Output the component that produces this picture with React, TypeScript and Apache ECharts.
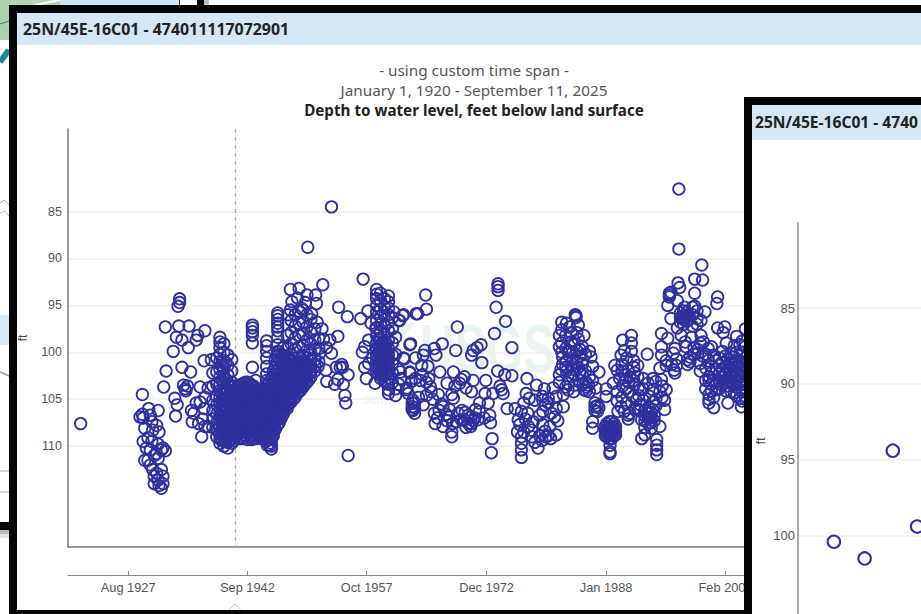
import React, { useEffect, useRef } from "react";
import * as echarts from "echarts";

const headerText = "25N/45E-16C01 - 474011117072901";
const insetHeaderText = "25N/45E-16C01 - 4740";
const titleLines = ["- using custom time span -", "January 1, 1920 - September 11, 2025", "Depth to water level, feet below land surface"];
const yTicks = [85, 90, 95, 100, 105, 110];
const insetYTicks = [85, 90, 95, 100];
const xTickYears = [1927.6, 1942.67, 1957.75, 1972.9, 1988.0, 2003.1];
const xTickLabels = ["Aug 1927", "Sep 1942", "Oct 1957", "Dec 1972", "Jan 1988", "Feb 2003"];
const markerYear = 1941.1;

// each row: year, then the depths read at that year
const early: number[][] = [
  [1921.6, 107.6], [1929.1, 106.9], [1929.4, 104.5, 106.6], [1929.5, 107, 109.5], [1929.7, 108.1, 111.5], [1929.9, 110.2], [1930.1, 111.5, 109.1],
  [1930.2, 106], [1930.4, 106.7, 110.4, 112.0], [1930.6, 109.5, 107.4], [1930.7, 108.3, 112.5], [1930.9, 111, 113.2, 114], [1931.2, 107.8, 110.8, 112.9],
  [1931.4, 106.2, 111.3, 113.6, 109.8], [1931.5, 108.5, 114.2], [1931.8, 112.5, 114.5, 110.4], [1932, 110.2, 113.2, 114], [1932.3, 110.5, 97.3],
  [1934.1, 94.3, 94.7], [1933.9, 95.1], [1934, 97.2], [1935.3, 97.2], [1937.3, 97.7, 104.8, 107.9], [1936.4, 98.2], [1936.2, 98.7], [1933.7, 98.4],
  [1934.4, 98.7, 101.6], [1935.2, 99.5], [1933.3, 99.9], [1932.4, 102], [1935.5, 102.1], [1932.1, 103.7], [1934.8, 103.9], [1934.6, 103.5], [1935.1, 103.6],
  [1934.9, 104.1], [1936.7, 103.7, 105.3], [1933.5, 104.9], [1933.8, 105.6], [1933.6, 106.8], [1935.6, 106.2], [1935.9, 106.5], [1935.7, 107.4],
  [1936.5, 107.6], [1936.9, 109], [1937.2, 106, 100.9], [1937.7, 107.9, 103.8], [1938.1, 100.8], [1936.2, 105.4], [1937.0, 107.1],
];
const blobWest: number[][] = [
  [1938.3, 102.2, 103.6, 105.1, 106.2, 107.1, 108.0],
  [1938.8, 100.6, 102.1, 103.4, 104.7, 105.6, 106.6, 107.5, 108.3, 109.0],
  [1939.2, 98.4, 98.9, 99.5, 100.2, 101.0, 101.8, 102.6, 103.4, 104.1, 104.8, 105.4, 106.1, 106.7, 107.3, 107.9, 108.6, 109.2, 109.7],
  [1939.7, 99.1, 100.0, 100.9, 101.7, 102.5, 103.2, 103.9, 104.5, 105.2, 105.8, 106.4, 107.1, 107.7, 108.3, 108.9, 109.5, 110.0],
  [1940.2, 100.3, 101.4, 102.4, 103.3, 104.0, 104.7, 105.3, 105.9, 106.6, 107.2, 107.8, 108.4, 109.0, 109.6, 110.2],
  [1940.7, 100.8, 102.0, 103.2, 104.2, 104.9, 105.5, 106.2, 106.8, 107.4, 108.0, 108.6, 109.2, 109.7],
  [1941.2, 103.9, 104.6, 105.2, 105.8, 106.5, 107.1, 107.7, 108.3, 108.9],
  [1941.7, 103.5, 104.2, 104.8, 105.5, 106.1, 106.7, 107.3, 108.0, 108.6, 109.2],
  [1942.2, 103.3, 103.9, 104.5, 105.1, 105.8, 106.4, 107.0, 107.6, 108.2, 108.8, 109.2],
  [1942.7, 103.2, 103.8, 104.4, 105.0, 105.7, 106.3, 106.9, 107.5, 108.1, 108.7, 109.3],
  [1943.2, 103.5, 104.1, 104.8, 105.4, 106.0, 106.6, 107.2, 107.8, 108.4, 109.0, 109.3],
  [1943.7, 103.8, 104.4, 105.0, 105.6, 106.3, 106.9, 107.5, 108.1, 108.7, 109.2],
  [1944.2, 104.1, 104.7, 105.3, 105.9, 106.5, 107.2, 107.8, 108.4, 109.1],
  [1944.7, 103.9, 104.5, 105.2, 105.8, 106.4, 107.0, 107.6, 108.2, 108.8, 109.3],
  [1945.2, 103.4, 104.0, 104.7, 105.3, 105.9, 106.5, 107.1, 107.7, 108.3, 108.9, 109.4, 109.9],
  [1945.7, 102.8, 103.5, 104.2, 104.8, 105.4, 106.0, 106.7, 107.3, 107.9, 108.5, 109.1, 109.7, 110.0, 110.3],
  [1946.2, 100.8, 101.6, 102.4, 103.1, 103.8, 104.4, 105.0, 105.7, 106.3, 106.9, 107.5, 108.2],
];
const blobWestFill: number[][] = [
  [1939.45, 101.4, 103.0, 104.4, 105.1, 105.7, 106.4, 107.0, 107.6, 108.2, 108.8, 109.4],
  [1939.95, 101.1, 102.9, 104.3, 105.0, 105.6, 106.3, 106.9, 107.5, 108.1, 108.7, 109.3],
  [1940.45, 103.7, 104.4, 105.1, 105.7, 106.4, 107.0, 107.6, 108.2, 108.8, 109.4],
  [1940.95, 103.6, 104.5, 105.1, 105.8, 106.4, 107.1, 107.7, 108.3, 108.9, 109.4],
  [1941.45, 103.7, 104.3, 104.9, 105.6, 106.2, 106.8, 107.4, 108.1, 108.7],
  [1941.95, 103.4, 104.1, 104.7, 105.3, 106.0, 106.6, 107.2, 107.8, 108.4, 109.0],
  [1942.45, 103.2, 103.8, 104.6, 105.2, 105.9, 106.5, 107.1, 107.7, 108.3, 108.9],
  [1942.95, 103.3, 104.0, 104.6, 105.3, 105.9, 106.5, 107.1, 107.7, 108.3, 108.9],
  [1943.45, 103.6, 104.3, 104.9, 105.5, 106.2, 106.8, 107.4, 108.0, 108.6, 109.2],
  [1943.95, 104.0, 104.6, 105.2, 105.8, 106.4, 107.1, 107.7, 108.3, 108.9],
  [1944.45, 104.0, 104.6, 105.3, 105.9, 106.5, 107.1, 107.7, 108.3, 108.9],
  [1944.95, 103.6, 104.3, 104.9, 105.5, 106.2, 106.8, 107.4, 108.0, 108.6, 109.2],
  [1945.45, 103.1, 103.8, 104.5, 105.1, 105.7, 106.3, 106.9, 107.5, 108.1, 108.7, 109.3, 109.9],
  [1945.95, 102.0, 103.0, 103.9, 104.6, 105.2, 105.9, 106.5, 107.1, 107.7, 108.4, 108.9],
];
const upperStacks: number[][] = [
  [1943.3, 97.1, 97.4, 97.8, 98.2, 99.0, 101.6], [1943.7, 103.0], [1945.1, 98.8, 99.3, 99.9, 100.6, 101.5, 102.3, 103.0],
  [1946.5, 95.8, 96.1, 96.5, 96.9, 97.3, 97.7, 98.4, 99.2, 99.9],
  [1948.1, 93.3, 95.5], [1949.2, 93.2], [1950.2, 93.9], [1951.3, 93.9], [1952.2, 92.8], [1951.4, 94.8], [1948.3, 94.6], [1949.5, 95.3], [1950.3, 88.8], [1953.3, 84.5],
  [1950.8, 95.9], [1951.5, 96.8], [1949.0, 94.2], [1947.8, 96.0], [1950.0, 94.7],
];
const blobEast: number[][] = [
  [1946.7, 100.0, 100.8, 101.6, 102.3, 103.0, 103.7, 104.3, 105.0, 105.6, 106.3, 107.0, 107.5],
  [1947.2, 99.5, 100.3, 101.1, 101.8, 102.5, 103.1, 103.8, 104.4, 105.0, 105.6, 106.2, 106.6],
  [1947.7, 98.2, 99.6, 100.5, 101.2, 101.9, 102.6, 103.2, 103.9, 104.5, 105.2, 106.0],
  [1948.2, 96.6, 97.9, 99.1, 100.2, 101.0, 101.7, 102.4, 103.0, 103.6, 104.2, 104.8, 105.3],
  [1948.7, 96.0, 97.2, 98.5, 99.7, 100.6, 101.4, 102.1, 102.8, 103.5, 104.2, 104.8],
  [1949.2, 95.6, 96.9, 98.2, 99.4, 100.5, 101.2, 101.9, 102.6, 103.3, 104.2],
  [1949.7, 95.5, 96.8, 98.1, 99.3, 100.4, 101.1, 101.8, 102.5, 103.1, 103.7],
  [1950.2, 96.0, 97.3, 98.7, 99.8, 100.6, 101.3, 102.0, 102.6, 103.2],
  [1950.7, 96.5, 97.9, 99.1, 100.1, 100.8, 101.5, 102.1, 102.6],
  [1951.2, 97.5, 98.7, 99.7, 100.8, 101.4, 102.0],
  [1951.7, 98.5, 99.6, 101.0],
];
const blobEastFill: number[][] = [
  [1946.45, 100.4, 101.2, 102.0, 102.7, 103.4, 104.1, 104.7, 105.3, 106.0, 106.6, 107.2, 107.8],
  [1946.95, 100.2, 101.0, 101.9, 102.6, 103.3, 104.0, 104.6, 105.3, 105.9, 106.5, 107.0],
  [1947.45, 100.8, 101.5, 102.2, 102.9, 103.5, 104.1, 104.8, 105.4, 106.0],
  [1947.95, 100.9, 101.6, 102.3, 102.9, 103.6, 104.2, 104.9, 105.5],
  [1948.45, 101.3, 102.0, 102.6, 103.2, 103.8, 104.4, 105.0],
  [1948.95, 101.0, 101.8, 102.5, 103.1, 103.8, 104.4],
  [1949.45, 101.1, 101.7, 102.3, 102.9, 103.6, 104.0],
  [1949.95, 101.3, 102.0, 102.7, 103.4],
  [1950.45, 101.5, 102.2, 102.9],
];
const fifties: number[][] = [
  [1954.2, 95.2], [1955.3, 96.2], [1954.1, 98.3], [1952.1, 97.5], [1953.1, 98.7], [1952.7, 99.5, 103.1], [1953.3, 100.1], [1951.8, 100.1], [1951.6, 101.5],
  [1952.6, 101.9], [1953.9, 101.6], [1954.4, 101.6], [1954.7, 101.6], [1955.4, 102.4, 111], [1953.7, 103.4], [1954.8, 103.4], [1955, 104.6], [1955.1, 105.4],
  [1954.6, 101.3], [1954.1, 102.9], [1952.3, 98.6],
  [1957.3, 92.2], [1957, 96.4], [1957.9, 95.6], [1958.9, 97.4], [1957.5, 99.4, 101.6], [1957.2, 100], [1957.7, 102.8], [1958.8, 103.3], [1958.3, 96.9], [1958.5, 100.6],
  [1961.2, 95.7], [1962.3, 96.1], [1964, 95.9], [1963.3, 99.1], [1962.4, 100.6], [1962, 102.1], [1963.2, 102.1], [1962.8, 104], [1963.9, 102.8], [1963.5, 105.4, 106.1, 105.8],
  [1961.4, 98.4, 100.2, 103.9, 104.6], [1961.8, 96.6, 101.8, 103.4], [1958.0, 98.7, 101.2],
];
const stack1960: number[][] = [
  [1959.0, 93.3, 93.8, 94.3, 95.0, 95.7, 96.6, 97.4, 98.2, 99, 99.7, 100.3, 100.9, 101.5, 102.1],
  [1959.25, 98.6, 99.3, 100.0, 100.6, 101.2, 101.8, 102.4],
  [1959.5, 93.7, 94.5, 95.4, 96.2, 97, 97.9, 98.6, 99.2, 99.8, 100.4, 101, 101.6, 102.2, 102.8],
  [1959.75, 98.9, 99.5, 100.1, 100.7, 101.3, 101.9, 102.5],
  [1960.0, 94.3, 95.2, 96.1, 97.2, 98.1, 98.8, 99.5, 100.1, 100.7, 101.3, 101.9, 102.5, 103.1],
  [1960.25, 99.1, 99.8, 100.4, 101.0, 101.6, 102.2],
  [1960.5, 94.0, 94.6, 95.3, 96, 96.8, 97.7, 98.7, 99.6, 100.2, 100.8, 101.4, 102, 102.7, 103.4, 104.0, 104.4],
  [1961.0, 96.3, 97.5, 99, 100.3, 101.2, 102.2, 103.2],
];
const sixties: number[][] = [
  [1965.2, 93.9], [1965.3, 95.4], [1964.2, 95.9], [1962.4, 96], [1961.9, 96.6], [1969.2, 97.3], [1963.2, 99.2, 102.2], [1967.3, 99.1], [1966.3, 99.6, 106.5], [1965.1, 99.8],
  [1964.9, 100.3, 105.6], [1969, 99.8], [1972.2, 99.2], [1971.7, 99.5], [1971.2, 99.8, 103], [1971, 100.3, 104.2, 107.6], [1972.3, 101.1], [1962.5, 100.7], [1964.7, 101.4], [1965.5, 101.5],
  [1974.35, 92.7, 93, 93.4], [1974.1, 95.2], [1975.3, 96.7], [1973.9, 98], [1976.1, 99.5, 102.5], [1974.3, 102], [1975.2, 102.4], [1972.8, 103], [1968.7, 102.1, 104.9],
  [1967, 102.1], [1970.1, 102.6, 107.2], [1969.7, 102.9, 107.2], [1974.6, 103.6], [1974.8, 104], [1975, 104.4], [1972.7, 104.4], [1973.7, 104.4],
  [1964.5, 103], [1965.8, 103.7], [1965.9, 104.2], [1966.8, 104.5], [1967.9, 103.3], [1968.5, 104.5, 108.5, 109], [1969.5, 103.3], [1970.3, 103.8], [1962.8, 103.8], [1962.1, 102.8], [1963.4, 103.1],
  [1963.6, 105.1, 106.2], [1963.8, 105.4, 105.9, 106.5], [1967.2, 105.5], [1966.4, 107.6], [1967.4, 105.8, 107.9], [1968.2, 106.1, 106.9],
  [1969.3, 106.5], [1970.6, 106.7, 107.6], [1971.4, 107], [1972, 106.3, 105.4], [1971.8, 107.2], [1973.3, 106.7], [1973.4, 107.5], [1973.1, 105.4],
  [1973.6, 109.2], [1973.5, 110.7], [1975.5, 106], [1976.5, 106], [1965.3, 103.2, 104.6], [1966.1, 105.0], [1967.8, 106.6], [1970.9, 107.9], [1970.3, 108.0], [1969.8, 106.2],
  [1971.5, 106.1], [1972.6, 107.0], [1964.3, 104.8], [1963.0, 104.4], [1968.9, 103.6],
  [1970.9, 106.9], [1971.2, 107.3], [1970.2, 106.4], [1969.1, 107.4], [1968.6, 107.6], [1967.9, 107.3], [1966.9, 106.2], [1966.7, 107.0], [1965.6, 102.8], [1964.8, 102.4], [1963.9, 100.6], [1966.5, 100.3],
];
const seventies: number[][] = [
  [1978, 102.8], [1979.2, 103.5], [1977.9, 104.4], [1976.9, 107.2], [1977.1, 107.7], [1977.3, 106.3, 109, 109.7, 110.4, 111.2], [1978.1, 106.5], [1979, 105.1], [1980, 104.7, 106.3, 107.7, 105.1],
  [1980.7, 105.4, 104.9], [1981.7, 106, 108.8, 104.7], [1982.6, 105.8, 104.5], [1981.5, 106.9], [1978.6, 108.3, 109], [1979.4, 110.2], [1980.4, 109], [1980.9, 107.9], [1978.8, 107.4], [1981.3, 103.8], [1981.1, 106.5],
  [1977.6, 105.4, 108.5], [1978.3, 104.9], [1979.6, 106.7, 108.9], [1980.3, 108.4, 105.6], [1981.0, 109.2], [1981.9, 107.3], [1982.1, 98.2, 99.4, 102.4, 103.2], [1983, 96.9, 102.0, 100.9], [1984.1, 96],
  [1982.5, 100.5, 101.3], [1983.2, 99.9, 103.3, 104.0], [1982.9, 98.2],
  [1979.9, 109.4], [1980.7, 108.9], [1979.0, 109.6], [1978.2, 107.9], [1977.8, 107.1], [1976.8, 108.5], [1980.2, 103.9], [1982.3, 101.8], [1983.7, 100.1, 102.6], [1984.3, 97.9, 99.8],
  [1982.4, 96.8, 97.6, 99.0, 100.0], [1983.6, 97.9, 98.9, 101.5], [1984.5, 97.1, 98.6, 101.6, 102.9], [1982.9, 99.6, 101.6, 103.7], [1983.9, 101.8, 102.3, 104.2],
];
const eighties: number[][] = [
  [1984.2, 96.1, 96.3, 101.0], [1983.4, 97.3, 99.9], [1985.2, 98.2], [1984, 99.2, 103.5], [1985.9, 99.9, 102.6, 104.2], [1986.1, 100.5], [1983.8, 100.8], [1984.7, 102.2, 99.7, 100.4], [1987.1, 102.1], [1985.1, 103.3, 100.8],
  [1985.5, 103.7, 103.2, 104.1], [1985.2, 104.0], [1985.8, 103.5], [1986.6, 105.8, 105.4, 106.2], [1986.9, 105.7, 106.3], [1987.1, 105.9], [1986.3, 107.4, 108.1], [1988, 104.7, 103.9],
  [1985.0, 99.4, 101.2, 102.4], [1985.4, 100.2, 102.0], [1986.3, 101.5, 103.0], [1986.7, 103.8],
  [1988.5, 110.6, 110.8, 109.9],
  [1987.9, 107.9, 108.4, 108.9], [1988.1, 107.6, 108.1, 108.6, 109.0], [1988.4, 107.4, 107.9, 108.4, 108.8, 109.2], [1988.7, 107.4, 107.9, 108.3, 108.7, 109.2], [1989.0, 107.6, 108.0, 108.5, 108.9], [1989.2, 107.9, 108.4, 108.8],
  [1989.1, 101.4], [1990.1, 98.7, 103.6], [1991.2, 98.2, 99, 99.9], [1989.9, 100.3], [1992, 101.4, 102.6], [1993.2, 100.2], [1989.7, 102.8], [1988.9, 103.3], [1990.8, 101.9], [1991, 102.6, 106.5],
  [1993.3, 103.3], [1991.4, 104.7], [1990.6, 105.4, 100.6], [1991.8, 105.1], [1990.3, 106.3], [1989.5, 106.3], [1993.5, 104.7, 107], [1994.8, 104.2, 107.9, 101.7], [1995.6, 104, 101.4], [1995.4, 105.1, 106.1], [1993.9, 106.1],
  [1992.9, 106.2, 106.8, 107.3, 108.0], [1993.3, 105.9, 106.5, 107.0, 107.6], [1993.7, 106.4, 106.9, 107.5, 108.1], [1994.1, 106.7, 107.3], [1992.5, 107.2, 109.2], [1992.9, 108.8],
  [1994.4, 109.3, 109.9, 110.4, 110.9], [1991.6, 102.2, 103.4, 106.0], [1992.3, 104.0, 105.6], [1990.9, 103.2, 104.2], [1990.3, 102.4, 99.8],
  [1989.4, 101.9, 104.2, 105.2], [1990.0, 101.3, 102.0, 104.8], [1990.5, 103.0, 103.9], [1991.5, 100.9, 101.6, 103.0], [1992.1, 103.7, 104.6, 106.1], [1992.7, 102.8, 103.9, 105.1],
  [1993.9, 102.8, 104.0, 105.3], [1994.3, 103.1, 105.0, 105.7], [1995.1, 103.6, 104.8], [1989.9, 105.8], [1990.8, 106.7, 107.1],
];
const nineties: number[][] = [
  [1995, 98, 99.4, 100.3, 102.9], [1995.8, 98.5, 95], [1996.7, 99.6, 102.2], [1996.5, 100.1], [1995.6, 100.9], [1996.3, 101.3], [1996.6, 101.9],
  [1997.2, 82.6, 89], [1997.1, 92.6], [1997.3, 93.1], [1996, 93.9, 93.7, 94.1], [1996.2, 96.4, 93.6],
  [1999.2, 92.2, 93.7, 95.1], [2000.2, 92.3], [2000.1, 90.7], [2002.1, 94.1], [2002, 94.8],
  [1997.4, 95.8, 96.3, 96.8], [1997.8, 95.6, 96.1, 96.5, 97.0], [1998.2, 95.7, 96.2, 96.7], [1998.5, 96.1, 96.5], [1997.9, 95.2, 96.3],
  [1998.9, 95.2, 96.0, 97.2], [1999.5, 95.6, 96.4, 97.0], [2000.5, 95.7], [2000, 96.6, 98.2], [1997.5, 98.2], [1998.8, 98.4], [2000.3, 98.9], [1998.1, 99.4], [1997.0, 94.5, 97.4],
  [1998.3, 100.8, 101.3], [1999.6, 100.1, 99.7], [1998.6, 100.5, 101.0], [2002.1, 97.4], [2003, 97.3], [2002.8, 97.9], [2003.2, 99], [1999.1, 100.2, 99.5], [2000.2, 100.4],
  [1996.9, 100.7, 101.4], [1998.0, 98.9], [1999.9, 99.0, 101.2, 102.0], [2000.6, 100.2, 101.7, 103.0, 103.9],
];
const recent: number[][] = [
  [2000.9, 99.6, 100.9], [2001.3, 99.4, 101.5, 102.2, 103.4, 104.1], [2001.0, 102.6, 103.0, 104.5, 105.0, 105.4], [2001.6, 100.3, 105.9, 102.9, 104.8], [2001.9, 100.9, 101.8, 103.2, 104.0], [2002.3, 100.6, 101.4, 102.3, 103.0, 103.9],
  [2002.7, 99.9, 101.1, 101.9, 102.6, 103.5], [2003.1, 100.4, 101.5, 102.4, 103.2, 104.1], [2003.4, 105.4, 100.7, 101.8, 102.7, 103.6], [2003.8, 100.1, 101.1, 101.9, 102.5, 103.3, 104.2], [2004.2, 99.3, 100.5, 101.3, 102.0, 102.7, 103.4, 104.3],
  [2004.5, 98.3, 100.0, 100.9, 101.6, 102.3, 103.0, 103.7, 104.6], [2004.9, 99.2, 100.3, 101.1, 101.8, 102.5, 103.2, 104.0, 104.9], [2005.2, 98.8, 100.0, 101.0, 101.9, 102.6, 103.4, 104.2, 105.2], [2005.1, 105.8],
  [2005.6, 97.5, 99.4, 100.6, 101.6, 102.4, 103.2, 104.1, 105.0],
];
const mainRows = [early, blobWest, blobWestFill, upperStacks, blobEast, blobEastFill, fifties, stack1960, sixties, seventies, eighties, nineties, recent];
const insetYears = [1922.8, 1925.2, 1927.4, 1929.3];
const insetDepths = [100.4, 101.5, 94.4, 99.4];

const uiFont = "'Noto Sans', sans-serif";
const axisFont = "'Liberation Sans', Arial, sans-serif";
const ringColor = "#2f2f9e";
const paleMark = "#eaf4f1";

function rect(x: number, y: number, w: number, h: number, fill: string, z: number) {
  return { type: "rect", z, silent: true, shape: { x, y, width: w, height: h }, style: { fill } };
}
function line(points: number[][], stroke: string, width: number, z: number) {
  return { type: "polyline", z, silent: true, shape: { points }, style: { stroke, lineWidth: width, fill: "none" } };
}

export default function App() {
  const ref = useRef<HTMLDivElement>(null);
  useEffect(() => {
    document.body.style.margin = "0";
    const chart = echarts.init(ref.current!, undefined, { renderer: "svg" });
    const mainData = mainRows.flat().flatMap(([y, ...ds]) => ds.map((d) => [y, d]));
    const insetData = insetYears.map((y, i) => [y, insetDepths[i]]);
    const ticksOf = (v: number) => xTickLabels[xTickYears.indexOf(v)] ?? "";
    chart.setOption({
      animation: false,
      backgroundColor: "#ffffff",
      title: [
        { text: titleLines[0], left: 469, top: 57, textAlign: "center", z: 6, textStyle: { fontFamily: uiFont, fontSize: 15.3, fontWeight: "normal", color: "#555" } },
        { text: titleLines[1], left: 469, top: 77, textAlign: "center", z: 6, textStyle: { fontFamily: uiFont, fontSize: 15.3, fontWeight: "normal", color: "#555" } },
        { text: titleLines[2], left: 469, top: 97, textAlign: "center", z: 6, textStyle: { fontFamily: uiFont, fontSize: 15.2, fontWeight: "bold", color: "#222" } },
      ],
      grid: [
        { left: 68, top: 129, width: 853, height: 418, containLabel: false },
        { left: 798, top: 223, width: 123, height: 391, containLabel: false },
      ],
      xAxis: [
        { type: "value", gridIndex: 0, min: 1920, max: 2027.8, z: 4, axisLine: { onZero: false, lineStyle: { color: "#777", width: 1.5 } }, axisTick: { show: false }, axisLabel: { show: false }, splitLine: { show: false } },
        { type: "value", gridIndex: 0, min: 1920, max: 2027.8, position: "bottom", offset: 28, z: 4,
          axisLine: { onZero: false, lineStyle: { color: "#888", width: 1.2 } },
          axisTick: { inside: true, length: 4, customValues: xTickYears, lineStyle: { color: "#888" } },
          axisLabel: { customValues: xTickYears, formatter: ticksOf, margin: 6, fontFamily: axisFont, fontSize: 12.8, color: "#555" },
          splitLine: { show: false } },
        { type: "value", gridIndex: 1, min: 1920, max: 1929.6, show: false, z: 12 },
      ],
      yAxis: [
        { type: "value", gridIndex: 0, inverse: true, min: 76.2, max: 120.75, z: 4, name: "ft", nameLocation: "middle", nameGap: 39, nameMoveOverlap: false,
          nameTextStyle: { fontFamily: axisFont, fontSize: 12, color: "#444" },
          axisLine: { show: true, onZero: false, lineStyle: { color: "#777", width: 1.5 } }, axisTick: { show: false, customValues: yTicks },
          axisLabel: { customValues: yTicks, margin: 6, fontFamily: axisFont, fontSize: 12.5, color: "#555" },
          splitLine: { show: true, lineStyle: { color: "#efefef", width: 1.5 } } },
        { type: "value", gridIndex: 1, inverse: true, min: 79.4, max: 105.16, z: 12,
          axisLine: { show: true, onZero: false, lineStyle: { color: "#aaa", width: 2 } }, axisTick: { show: false, customValues: insetYTicks },
          axisLabel: { customValues: insetYTicks, margin: 3, fontFamily: axisFont, fontSize: 13, color: "#555" },
          splitLine: { show: true, lineStyle: { color: "#efefef", width: 1.5 } } },
      ],
      series: [
        { type: "scatter", name: "Depth", xAxisIndex: 0, yAxisIndex: 0, z: 5, data: mainData, symbol: "circle", symbolSize: 11.5, silent: true, clip: false,
          itemStyle: { color: "rgba(0,0,0,0)", borderColor: ringColor, borderWidth: 1.8, opacity: 1 },
          markLine: { silent: true, symbol: "none", label: { show: false }, lineStyle: { type: [4, 4], color: "#aaaaaa", width: 1.3 }, data: [{ xAxis: markerYear }] } },
        { type: "scatter", name: "Depth inset", xAxisIndex: 2, yAxisIndex: 1, z: 13, data: insetData, symbol: "circle", symbolSize: 12.5, silent: true, clip: false,
          itemStyle: { color: "rgba(0,0,0,0)", borderColor: ringColor, borderWidth: 2, opacity: 1 } },
      ],
      graphic: { elements: [
        // screenshot behind: map fragments
        rect(0, 0, 180, 5, "#cfe6f4", 0),
        rect(0, 0, 60, 5, "#b5d5b6", 0),
        line([[35, 5], [60, 0]], "#ffffff", 2, 0),
        line([[179.5, 0], [179.5, 5]], "#333", 1, 0),
        rect(197, 0, 7, 5, "#050505", 0),
        rect(204, 0, 5, 5, "#bdbdbd", 0),
        rect(0, 0, 9, 40, "#aecfae", 0),
        line([[0, 24], [9, 21]], "#4d7f5a", 1, 0),
        line([[0, 62], [9, 50]], "#1d8799", 6, 0),
        rect(0, 315, 9, 30, "#d6ebf6", 0),
        line([[0, 203], [4, 200], [9, 205]], "#8cc2dc", 1, 0),
        line([[0, 213], [5, 211], [9, 216]], "#8cc2dc", 1, 0),
        line([[0, 372], [9, 376]], "#999", 1.5, 0),
        line([[0, 471], [9, 471]], "#aaa", 1, 0),
        line([[0, 492], [9, 492]], "#aaa", 1, 0),
        rect(0, 522, 9, 8, "#050505", 0),
        rect(0, 530, 9, 4, "#bbbbbb", 0),
        rect(0, 534, 9, 4, "#e4e4e4", 0),
        // main panel
        rect(9, 5, 912, 609, "#050505", 1),
        rect(17, 13, 904, 597, "#ffffff", 2),
        rect(17, 13, 904, 32, "#d5e6f5", 2),
        { type: "text", z: 3, silent: true, x: 23, y: 29, style: { text: headerText, fontFamily: uiFont, fontSize: 15.9, fontWeight: "bold", fill: "#222", verticalAlign: "middle" } },
        { type: "polygon", z: 3, silent: true, shape: { points: [[363, 335], [385, 326], [417, 322], [400, 338], [378, 342]] }, style: { fill: paleMark } },
        { type: "text", z: 3, silent: true, x: 420, y: 348, scaleX: 0.7, style: { text: "USGS", fontFamily: "'Liberation Sans', sans-serif", fontSize: 68, fontWeight: "bold", fill: paleMark, verticalAlign: "middle" } },
        { type: "text", z: 3, silent: true, x: 362, y: 398, style: { text: "science", fontFamily: "'Liberation Sans', sans-serif", fontSize: 15, fontStyle: "italic", fill: paleMark, verticalAlign: "middle" } },
        line([[229, 610], [235, 604], [241, 610]], "#cccccc", 1, 3),
        // inset panel
        rect(744, 97, 177, 517, "#050505", 10),
        rect(752, 105, 169, 509, "#ffffff", 11),
        rect(752, 105, 169, 35, "#d5e6f5", 11),
        { type: "text", z: 14, silent: true, x: 755, y: 122, style: { text: insetHeaderText, fontFamily: uiFont, fontSize: 15.6, fontWeight: "bold", fill: "#222", verticalAlign: "middle" } },
        { type: "text", z: 14, silent: true, x: 760, y: 441, rotation: Math.PI / 2, style: { text: "ft", fontFamily: axisFont, fontSize: 13, fill: "#444", align: "center", verticalAlign: "middle" } },
      ] },
    });
    return () => chart.dispose();
  }, []);
  return <div ref={ref} style={{ position: "absolute", left: 0, top: 0, width: 921, height: 614 }} />;
}
